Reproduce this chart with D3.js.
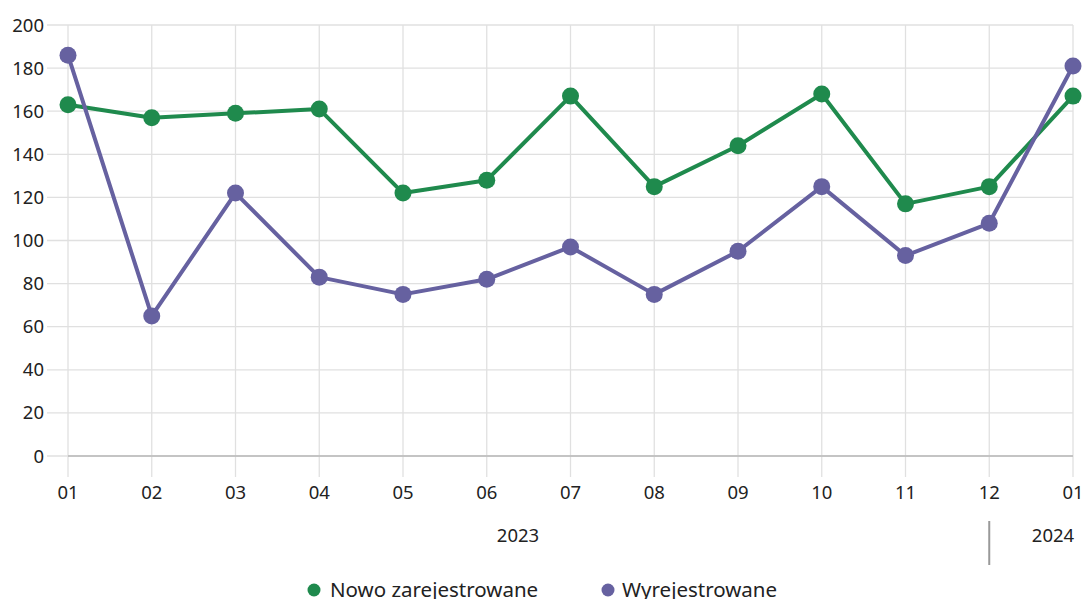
<!DOCTYPE html>
<html><head><meta charset="utf-8">
<script src="https://cdn.jsdelivr.net/npm/d3@7"></script>
<style>body{margin:0;background:#fff;} svg{display:block;font-family:"Noto Sans",sans-serif;}</style>
</head><body>
<svg id="c" width="1082" height="599"></svg>
<script>
const months = ["01","02","03","04","05","06","07","08","09","10","11","12","01"];
const nowo = [163,157,159,161,122,128,167,125,144,168,117,125,167];
const wyrej = [186,65,122,83,75,82,97,75,95,125,93,108,181];
const yTicks = [0,20,40,60,80,100,120,140,160,180,200];
const seriesNames = ["Nowo zarejestrowane","Wyrejestrowane"];
const colors = ["#1f8a4d","#6661a0"];

const svg = d3.select("#c");
const idx = months.map((d,i)=>i);
const x = d3.scaleLinear().domain([0,12]).range([68,1073]);
const y = d3.scaleLinear().domain([0,200]).range([456,25]);

// grid
svg.append("g").selectAll("line").data(yTicks).join("line")
  .attr("x1",47).attr("x2",1073).attr("y1",d=>y(d)).attr("y2",d=>y(d))
  .attr("stroke","#e0e0e0").attr("stroke-width",1.3);
svg.append("g").selectAll("line").data(idx).join("line")
  .attr("x1",d=>x(d)).attr("x2",d=>x(d)).attr("y1",y(200)).attr("y2",477)
  .attr("stroke","#e0e0e0").attr("stroke-width",1.3);
svg.append("line").attr("x1",68).attr("x2",1073).attr("y1",y(0)).attr("y2",y(0))
  .attr("stroke","#b8b8b8").attr("stroke-width",1.5);

// y labels
svg.append("g").selectAll("text").data(yTicks).join("text")
  .attr("x",44).attr("y",d=>y(d)+6.5).attr("text-anchor","end")
  .attr("font-size",18.5).attr("fill","#222").text(d=>d);
// x labels
svg.append("g").selectAll("text").data(idx).join("text")
  .attr("x",d=>x(d)).attr("y",499).attr("text-anchor","middle")
  .attr("font-size",18.5).attr("fill","#222").text(d=>months[d]);
// year labels
svg.append("text").attr("x",518).attr("y",542).attr("text-anchor","middle")
  .attr("font-size",18.5).attr("fill","#222").text("2023");
svg.append("text").attr("x",1053).attr("y",542).attr("text-anchor","middle")
  .attr("font-size",18.5).attr("fill","#222").text("2024");
svg.append("line").attr("x1",x(11)).attr("x2",x(11)).attr("y1",521).attr("y2",565)
  .attr("stroke","#999").attr("stroke-width",2);

// series
const line = d3.line().x((d,i)=>x(i)).y(d=>y(d));
[nowo,wyrej].forEach((s,k)=>{
  const g = svg.append("g");
  g.append("path").datum(s).attr("d",line).attr("fill","none")
    .attr("stroke",colors[k]).attr("stroke-width",4).attr("stroke-linejoin","round");
  g.selectAll("circle").data(s).join("circle")
    .attr("cx",(d,i)=>x(i)).attr("cy",d=>y(d)).attr("r",8.5).attr("fill",colors[k]);
});

// legend
const leg = [{x:314,tx:330},{x:608,tx:622}];
leg.forEach((l,k)=>{
  svg.append("circle").attr("cx",l.x).attr("cy",590).attr("r",6.5).attr("fill",colors[k]);
  svg.append("text").attr("x",l.tx).attr("y",597).attr("font-size",20.5).attr("fill","#222").text(seriesNames[k]);
});
</script>
</body></html>
